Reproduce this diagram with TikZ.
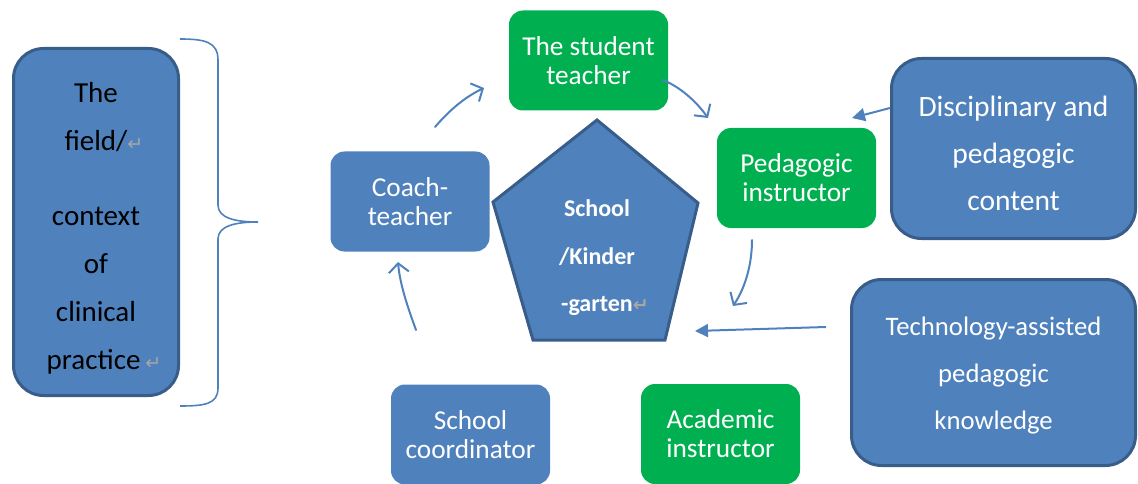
\documentclass[tikz,border=0pt]{standalone}
\usepackage{fontspec}
\setmainfont{Carlito}
\newfontfamily\symfont{DejaVu Sans}
\usetikzlibrary{arrows.meta}
\definecolor{ofblue}{HTML}{4F81BD}
\definecolor{ofdark}{HTML}{385D8A}
\definecolor{ofgreen}{HTML}{00B050}
\newcommand{\pmark}{\rlap{{\symfont\color{black!35}\fontsize{19}{19}\selectfont ↵}}}
\begin{document}
\begin{tikzpicture}[x=1pt,y=-1pt,
  box/.style={rounded corners=14pt, text=white, align=center, inner sep=0pt,
    font=\fontsize{27.3}{29}\selectfont},
  greenbox/.style={box, fill=ofgreen, minimum width=159pt, minimum height=100pt},
  smallblue/.style={box, fill=ofblue, minimum width=159pt, minimum height=100pt},
  bigbox/.style={box, fill=ofblue, draw=ofdark, line width=3pt, rounded corners=30pt},
  textonly/.style={inner sep=0pt, align=center},
  curvearr/.style={draw=ofblue, line width=2pt, line cap=round,
    -{Straight Barb[length=9pt,width=20pt,line width=2pt]}},
  solidarr/.style={draw=ofblue, line width=2pt, -{Triangle[length=13pt,width=13pt]}},
  bracestyle/.style={draw=ofblue, line width=1.6pt}
]
\useasboundingbox (0,0) rectangle (1138,484);

% left context box
\node[bigbox, minimum width=165pt, minimum height=347pt] (field) at (96,222) {};
\node[textonly, text=black, font=\fontsize{29}{48}\selectfont] (fieldtext) at (96,228)
  {The\\field/\pmark\\[27pt]context\\of\\clinical\\practice\,\pmark};

% brace
\coordinate (bt) at (180,39);
\coordinate (bb) at (180,406);
\coordinate (btip) at (258,222);
\draw[bracestyle] (bt) .. controls (205,39) and (218,42) .. (218,60)
  -- (218,205) .. controls (218,218) and (235,222) .. (btip)
  .. controls (235,222) and (218,226) .. (218,239)
  -- (218,388) .. controls (218,404) and (205,406) .. (bb);

% nodes of the cycle
\node[greenbox] (student) at (588.5,60.5) {The student\\teacher};
\node[smallblue] (coach) at (410,201.5) {Coach-\\teacher};
\node[greenbox] (pedinst) at (796.5,178) {Pedagogic\\instructor};
\node[smallblue] (coord) at (470.5,434.5) {School\\coordinator};
\node[greenbox] (acad) at (720.5,434) {Academic\\instructor};

% big boxes at right
\node[bigbox, minimum width=244pt, minimum height=180pt] (disc) at (1013.5,148.5) {};
\node[textonly, text=white, font=\fontsize{29.5}{47}\selectfont] (disctext) at (1013.5,153.5)
  {Disciplinary and\\pedagogic\\content};
\node[bigbox, minimum width=284pt, minimum height=186pt] (tech) at (993.5,372.5) {};
\node[textonly, text=white, font=\fontsize{26.7}{47}\selectfont] (techtext) at (993.5,376)
  {Technology-assisted\\pedagogic\\knowledge};

% pentagon
\coordinate (pt) at (597,120);
\coordinate (pul) at (493,202);
\coordinate (pur) at (698,203);
\coordinate (pbl) at (533,340);
\coordinate (pbr) at (665,340);
\draw[fill=ofblue, draw=ofdark, line width=3pt, line join=miter]
  (pt) -- (pur) -- (pbr) -- (pbl) -- (pul) -- cycle;
\node[textonly, text=white, font=\bfseries\fontsize{24}{47.5}\selectfont] (school) at (597,258)
  {School\\/Kinder\\-garten\pmark};

% curved cycle arrows
\coordinate (a1s) at (435,127); \coordinate (a1e) at (484,88);
\draw[curvearr] (a1s) .. controls (448,112) and (463,98) .. (a1e);
\coordinate (a2s) at (663,80); \coordinate (a2e) at (708,118);
\draw[curvearr] (a2s) .. controls (680,87) and (696,101) .. (a2e);
\coordinate (a3s) at (752,240); \coordinate (a3e) at (733,306);
\draw[curvearr] (a3s) .. controls (752,265) and (745,288) .. (a3e);
\coordinate (a4s) at (416,330); \coordinate (a4e) at (398,262);
\draw[curvearr] (a4s) .. controls (408,308) and (400,285) .. (a4e);

% straight arrows
\coordinate (d1e) at (852,118);
\draw[solidarr] (disc.west |- 0,108) -- (d1e);
\coordinate (t1s) at (826,327);
\coordinate (t1e) at (695,331);
\draw[solidarr] (t1s) -- (t1e);
\end{tikzpicture}
\end{document}
